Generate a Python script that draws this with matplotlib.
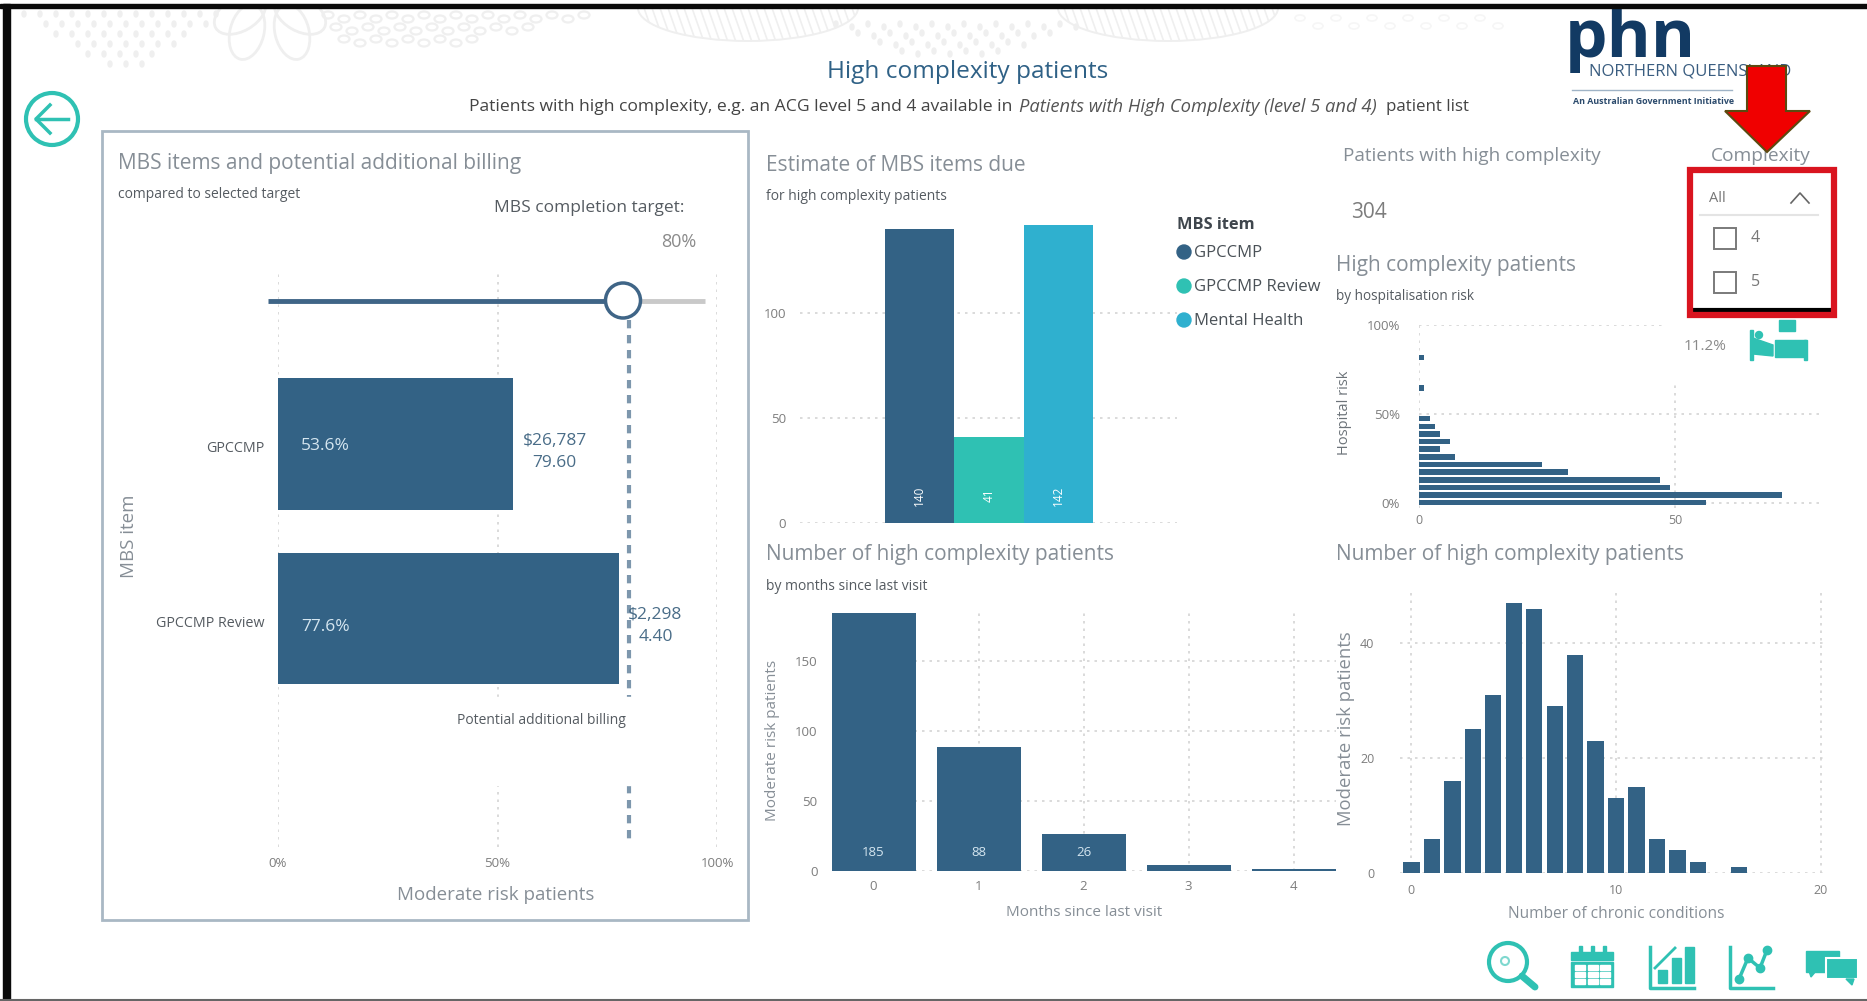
import matplotlib
matplotlib.use('Agg')
import matplotlib.pyplot as plt
from matplotlib.patches import Circle, Ellipse, Polygon, Rectangle
from matplotlib.transforms import ScaledTranslation

W, H = 1867, 1001

# chart values
mbs_items = ['GPCCMP', 'GPCCMP Review']
mbs_completion = [53.6, 77.6]
mbs_billing = ['$26,787\n79.60', '$2,298\n4.40']
target = 80

due_items = ['GPCCMP', 'GPCCMP Review', 'Mental Health']
due_values = [140, 41, 142]

risk_bins = [0, 4.3, 8.6, 12.9, 17.2, 21.5, 25.9, 30.2, 34.5, 38.8, 43.1, 47.4, 64.7, 81.9]
risk_patients = [56, 71, 49, 47, 29, 24, 7, 4, 6, 4, 3, 2, 1, 1]

months = [0, 1, 2, 3, 4]
months_patients = [185, 88, 26, 4, 1]

conditions = [0, 1, 2, 3, 4, 5, 6, 7, 8, 9, 10, 11, 12, 13, 14, 16]
conditions_patients = [2, 6, 16, 25, 31, 47, 46, 29, 38, 23, 13, 15, 6, 4, 2, 1]

NAVY = '#336285'
TEAL = '#2fc1b3'
BLUE = '#2fb0cf'
GREY = '#868e96'
DARK = '#555b61'
TICK = '#7d7d7d'
GRID = '#d4d4d4'
FAINT = '#efefef'

plt.rcParams['font.family'] = ['Open Sans', 'DejaVu Sans']

fig = plt.figure(figsize=(W / 100, H / 100), dpi=100, facecolor='white')


def px_axes(x0, y0, x1, y1):
    ax = fig.add_axes([x0 / W, 1 - y1 / H, (x1 - x0) / W, (y1 - y0) / H])
    ax.patch.set_alpha(0)
    for s in ax.spines.values():
        s.set_visible(False)
    ax.tick_params(length=0, labelsize=9.5, labelcolor=TICK)
    ax.set_axisbelow(True)
    return ax


def dotted_grid(ax, axis='both'):
    ax.grid(True, axis=axis, color=GRID, linestyle=(0, (1.5, 3)), linewidth=1.2)


def label(x, y, s, size=10, color=GREY, **kw):
    kw.setdefault('ha', 'left')
    kw.setdefault('va', 'center')
    over.text(x, y, s, fontsize=size, color=color, **kw)


# chart 1, completion against target
ax1 = px_axes(278, 273, 717, 847)
ax1.barh(range(len(mbs_items)), mbs_completion, height=0.755, color=NAVY)
ax1.vlines(target, -0.71, 2.28, color='#7d97ad', linewidth=3, linestyles=(0, (2, 1.6)))
ax1.set_xlim(0, 100)
ax1.set_ylim(2.31, -0.98)
ax1.set_xticks([0, 50, 100], ['0%', '50%', '100%'])
ax1.set_yticks(range(len(mbs_items)), mbs_items, color=DARK, fontsize=10.3)
ax1.tick_params(axis='x', pad=7)
ax1.tick_params(axis='y', pad=10)
dotted_grid(ax1, 'x')
shift = ScaledTranslation(0, -3 / 100, fig.dpi_scale_trans)
for t in ax1.get_yticklabels():
    t.set_transform(t.get_transform() + shift)
ax1.text(5.3, 0.01, f'{mbs_completion[0]}%', color='#d5e6f0', fontsize=12.5, va='center')
ax1.text(5.3, 1.05, f'{mbs_completion[1]}%', color='#d5e6f0', fontsize=12.5, va='center')
ax1.text(63, 0.045, mbs_billing[0], color='#4a6d88', fontsize=12.5, ha='center', va='center', linespacing=1.45)
ax1.text(86, 1.045, mbs_billing[1], color='#4a6d88', fontsize=12.5, ha='center', va='center', linespacing=1.5)

# chart 2, MBS items due
ax2 = px_axes(800, 200, 1177, 523)
ax2.bar(range(len(due_items)), due_values, width=1, color=[NAVY, TEAL, BLUE])
ax2.set_xlim(-1.727, 3.713)
ax2.set_ylim(0, 153.7)
ax2.set_xticks([])
ax2.set_yticks([0, 50, 100])
ax2.tick_params(axis='y', pad=10)
dotted_grid(ax2, 'y')
for i, v in enumerate(due_values):
    ax2.text(i, 13, str(v), color='white', fontsize=8.5, rotation=90, ha='center', va='center')

# chart 3, hospitalisation risk
ax3 = px_axes(1419.3, 325.4, 1822.6, 508)
ax3.barh(risk_bins, risk_patients, height=3.1, color=NAVY)
ax3.set_xlim(0, 78.9)
ax3.set_ylim(-3, 100)
ax3.set_xticks([0, 50])
ax3.set_yticks([0, 50, 100], ['0%', '50%', '100%'])
ax3.tick_params(axis='x', pad=4, labelsize=9)
ax3.tick_params(axis='y', pad=14, labelsize=9.5)
dotted_grid(ax3)

# chart 4, months since last visit
ax4 = px_axes(831.5, 613, 1335.5, 870.7)
ax4.bar(months, months_patients, width=0.8, color=NAVY)
ax4.set_xlim(-0.4, 4.4)
ax4.set_ylim(0, 184)
ax4.set_xticks(months)
ax4.set_yticks([0, 50, 100, 150])
ax4.tick_params(axis='x', pad=7)
ax4.tick_params(axis='y', pad=10)
dotted_grid(ax4)
for x, v in zip(months, months_patients):
    if v > 10:
        ax4.text(x, 13, str(v), color='#d5e6f0', fontsize=9.5, ha='center', va='center')

# chart 5, chronic conditions
ax5 = px_axes(1399.5, 588, 1824, 873)
ax5.bar(conditions, conditions_patients, width=0.8, color=NAVY)
ax5.set_xlim(-0.58, 20.15)
ax5.set_ylim(0, 49.6)
ax5.set_xticks([0, 10, 20])
ax5.set_yticks([0, 20, 40])
ax5.tick_params(axis='x', pad=8, labelsize=9)
ax5.tick_params(axis='y', pad=18, labelsize=9)
dotted_grid(ax5)

# overlay in pixel coordinates for the report page around the charts
over = fig.add_axes([0, 0, 1, 1], zorder=10)
over.set_xlim(0, W)
over.set_ylim(H, 0)
over.axis('off')
over.patch.set_alpha(0)

# faint floral background along the top
for row in range(6):
    for col in range(13 - row * 2):
        over.add_patch(Ellipse((24 + row * 16 + col * 16 + (row % 2) * 6, 14 + row * 10), 4, 6, color=FAINT))
for xy, ang in [((247, 32), 14), ((292, 32), -14), ((240, 14), 60), ((300, 14), -60)]:
    over.add_patch(Ellipse(xy, 34, 56, angle=ang, fill=False, ec=FAINT, lw=2))
for row in range(3):
    for col in range(17 - row * 4):
        over.add_patch(Ellipse((328 + row * 8 + col * 16, 15 + row * 12 + (col % 2) * 4), 11, 7, fill=False, ec=FAINT, lw=1.6))
for cx in [748, 1168]:
    leaf = Ellipse((cx, 8), 220, 66, fill=False, ec=FAINT, lw=1.4)
    over.add_patch(leaf)
    for x0 in range(cx - 120, cx + 120, 8):
        stripe, = over.plot([x0, x0 + 12], [8, 42], color=FAINT, lw=1.2)
        stripe.set_clip_path(leaf)
for row in range(4):
    for col in range(16 - row * 3):
        over.add_patch(Ellipse((836 + row * 22 + col * 16, 24 + row * 9 + (col % 2) * 3), 4, 6, color=FAINT))
for col in range(12):
    over.add_patch(Ellipse((1300 + col * 18, 18 + (col % 2) * 8), 10, 6, fill=False, ec='#f6f6f6', lw=1.2))

# masks behind labels
over.add_patch(Rectangle((456, 697), 175, 88, color='white', zorder=1))
over.add_patch(Rectangle((1665, 318), 165, 62, color='white', zorder=1))

# panel frame
over.add_patch(Rectangle((102, 131), 646, 789, fill=False, ec='#a9b8c4', lw=2))

# titles
label(968, 72.5, 'High complexity patients', 17.6, '#2f6186', ha='center')
label(469, 107, 'Patients with high complexity, e.g. an ACG level 5 and 4 available in', 12.6, '#444444')
label(1019, 107, 'Patients with High Complexity (level 5 and 4)', 13.2, '#555555', style='italic')
label(1386, 107, 'patient list', 12.2, '#444444')

label(118, 163, 'MBS items and potential additional billing', 15)
label(118, 194, 'compared to selected target', 10, DARK)
label(494, 207.5, 'MBS completion target:', 12.5, DARK)
label(679, 242, '80%', 13, '#8a8a8a', ha='center')
label(626, 720, 'Potential additional billing', 10, DARK, ha='right')
label(496, 895, 'Moderate risk patients', 13.5, ha='center')
label(129, 536, 'MBS item', 13.5, rotation=90, ha='center')

label(766, 165.5, 'Estimate of MBS items due', 15)
label(766, 197, 'for high complexity patients', 10, DARK)
label(1177, 225, 'MBS item', 11.8, '#3f464d', weight='bold')
for yy, name, c in zip([252, 286, 320], due_items, [NAVY, TEAL, BLUE]):
    over.add_patch(Circle((1184, yy), 7, color=c))
    label(1194, yy + 1, name, 12, '#4a5157')

label(766, 554.5, 'Number of high complexity patients', 15)
label(766, 586, 'by months since last visit', 10, DARK)
label(1084, 913, 'Months since last visit', 11, ha='center')
label(773, 740, 'Moderate risk patients', 11, rotation=90, ha='center')

label(1336, 554.5, 'Number of high complexity patients', 15)
label(1616, 914, 'Number of chronic conditions', 11.2, ha='center')
label(1346, 729, 'Moderate risk patients', 13.3, rotation=90, ha='center')

label(1343, 156, 'Patients with high complexity', 13.6)
label(1351, 213, '304', 15, '#7d7d7d')
label(1336, 265.5, 'High complexity patients', 15)
label(1336, 296, 'by hospitalisation risk', 9.8, DARK)
label(1345, 413, 'Hospital risk', 10.5, '#6c7379', rotation=90, ha='center')
label(1705, 347, '11.2%', 11, '#8a8a8a', ha='center')

# bed icon
over.add_patch(Rectangle((1750, 330), 3, 30, color=TEAL))
over.add_patch(Polygon([(1753, 338), (1773, 345), (1773, 356), (1753, 354)], color=TEAL))
over.add_patch(Circle((1759, 335), 3.5, color=TEAL))
over.add_patch(Rectangle((1775, 340), 31, 17, color=TEAL))
over.add_patch(Rectangle((1804, 340), 3, 20, color=TEAL))
over.add_patch(Rectangle((1779, 320), 16, 11, color=TEAL))

# slider
over.plot([268, 623], [301, 301], color='#3f6587', lw=3.5, solid_capstyle='butt')
over.plot([623, 705], [301, 301], color='#c9c9c9', lw=3.5, solid_capstyle='butt')
over.add_patch(Circle((623, 300.5), 17.5, fc='white', ec='#3f6587', lw=2.5, zorder=5))

# back button
over.add_patch(Circle((52, 119), 26, fill=False, ec=TEAL, lw=3))
over.plot([36, 68], [119, 119], color=TEAL, lw=2.5)
over.plot([50, 36, 50], [105, 119, 133], color=TEAL, lw=2.5)

# logo
over.text(1565, 57, 'phn', fontsize=48.5, weight='bold', color='#123a63', va='baseline')
label(1589, 71, 'NORTHERN QUEENSLAND', 12, '#3a5d80')
over.plot([1572, 1732], [89.5, 89.5], color='#9fb3c6', lw=1)
label(1573, 101.5, 'An Australian Government Initiative', 6.4, '#2b4a6c', weight='bold')

# slicer
label(1761, 156, 'Complexity', 13.8, ha='center')
label(1709, 198, 'All', 10.5, '#777777')
over.plot([1791, 1800, 1809], [203, 193, 203], color='#666666', lw=1.2)
over.plot([1700, 1818], [215, 215], color='#e4e4e4', lw=1.5)
for yy, name in zip([238, 282], ['4', '5']):
    over.add_patch(Rectangle((1714, yy - 10.5), 22, 21, fill=False, ec='#7a7a7a', lw=1.4))
    label(1751, yy, name, 11.5, '#777777')
over.plot([1693, 1830], [309.5, 309.5], color='black', lw=3, zorder=6)
over.add_patch(Rectangle((1690, 170), 144, 145, fill=False, ec='#d9141f', lw=4.5, zorder=6))

# red arrow
over.add_patch(Polygon([(1747, 66), (1786, 66), (1786, 111), (1810, 111), (1767, 152), (1725, 111), (1747, 111)],
                       fc='#f00000', ec='#5c4a10', lw=1.5, zorder=7))

# bottom icons
over.add_patch(Circle((1508, 962), 19, fill=False, ec=TEAL, lw=3))
over.plot([1522, 1535], [976, 987], color=TEAL, lw=5, solid_capstyle='round')
over.add_patch(Circle((1505, 961), 4, fill=False, ec='#7fd8cf', lw=1.5))
over.add_patch(Rectangle((1571, 952), 42, 8, color=TEAL))
over.add_patch(Rectangle((1571, 962), 42, 25, color=TEAL))
for x0 in [1580, 1592, 1604]:
    over.add_patch(Rectangle((x0 - 1.5, 946), 3, 9, color=TEAL))
for r in range(3):
    for c in range(3):
        over.add_patch(Rectangle((1575 + c * 12.5, 965 + r * 7), 10, 5, color='white'))
over.plot([1650, 1650, 1694], [947, 988, 988], color=TEAL, lw=2.5)
for x0, y0 in [(1658, 970), (1672, 958), (1685, 947)]:
    over.add_patch(Rectangle((x0, y0), 9, 983 - y0, color=TEAL))
over.plot([1655, 1675], [968, 948], color=TEAL, lw=2)
over.plot([1730, 1730, 1773], [947, 988, 988], color=TEAL, lw=2.5)
over.plot([1739, 1748, 1760, 1767], [979, 958, 968, 950], color=TEAL, lw=2.5, marker='o', ms=6)
over.add_patch(Rectangle((1806, 951), 33, 21, color=TEAL))
over.add_patch(Polygon([(1809, 971), (1816, 971), (1811, 977)], color=TEAL))
over.add_patch(Rectangle((1826, 958), 32, 21, fc=TEAL, ec='white', lw=1.5))
over.add_patch(Polygon([(1846, 979), (1854, 979), (1852, 985)], color=TEAL))

# window edges
over.add_patch(Rectangle((0, 0), W, 4, color='white', zorder=8))
over.add_patch(Rectangle((0, 4), W, 3.5, color='#0a0a0a', zorder=9))
over.add_patch(Rectangle((3, 4), 7, 995, color='#0a0a0a', zorder=9))
over.plot([0, W], [999.5, 999.5], color='#666666', lw=1.5, zorder=9)

fig.savefig('out.png', dpi=100)
